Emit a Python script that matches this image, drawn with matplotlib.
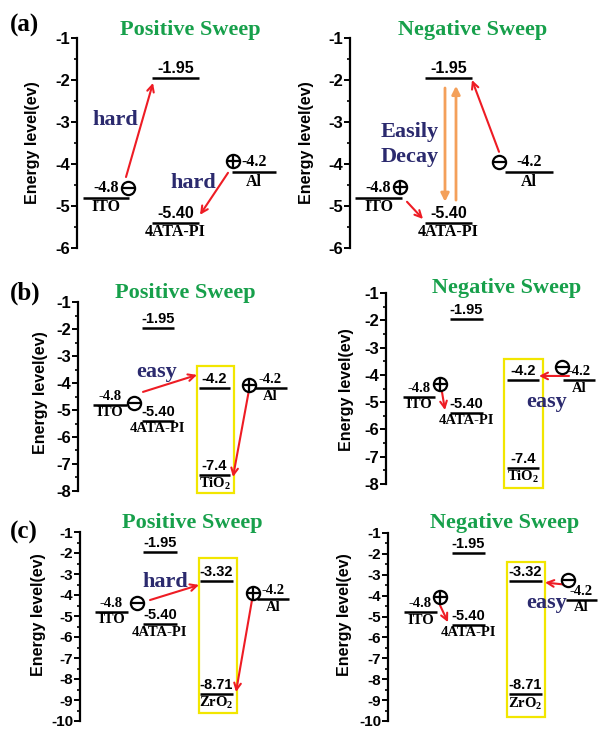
import matplotlib
matplotlib.use('Agg')
import matplotlib.pyplot as plt
from matplotlib.patches import Rectangle
from matplotlib.ticker import MultipleLocator

plt.rcParams['axes.unicode_minus'] = False
plt.rcParams['mathtext.fontset'] = 'custom'
plt.rcParams['mathtext.rm'] = 'Liberation Serif:bold'
plt.rcParams['mathtext.default'] = 'rm'

# --------------------------------------------
# energy levels (eV)
# --------------------------------------------
ito = -4.8
pi_lumo = -1.95
pi_homo = -5.40
al = -4.2
tio2 = [-4.2, -7.4]
zro2 = [-3.32, -8.71]

panel_tags = ['(a)', '(b)', '(c)']
sweep_titles = ['Positive Sweep', 'Negative Sweep']
y_bottoms = [-6, -8, -10]

W, H = 598, 729
SERIF = 'Liberation Serif'
SANS = 'Liberation Sans'
GREEN = '#17a04b'
NAVY = '#2b2a6e'
RED = '#ee1c24'
ORANGE = '#f4a05a'
YELLOW = '#f2e600'

fig = plt.figure(figsize=(W / 100, H / 100), dpi=100)


def make_axes(left, right, ytop, ybot, ymin, fs=12):
    ax = fig.add_axes([left / W, 1 - ybot / H, (right - left) / W, (ybot - ytop) / H])
    ax.set_xlim(0, right - left)
    ax.set_ylim(ymin, -1)
    for s in ['top', 'right', 'bottom']:
        ax.spines[s].set_visible(False)
    ax.spines['left'].set_linewidth(1.6)
    ax.set_xticks([])
    ax.set_yticks(range(ymin, 0))
    ax.yaxis.set_minor_locator(MultipleLocator(0.5))
    ax.tick_params(axis='y', which='major', length=4, width=1.4, pad=1)
    ax.tick_params(axis='y', which='minor', length=2, width=1.2)
    for lab in ax.get_yticklabels():
        lab.set_fontfamily(SANS)
        lab.set_fontweight('bold')
        lab.set_fontsize(fs)
    ax.patch.set_alpha(0)
    return ax


def level(ax, x0, x1, e, top, bottom=None, top_font=SANS, fs=10.5, bfs=10.5):
    ax.plot([x0, x1], [e, e], color='black', lw=1.8, solid_capstyle='butt')
    xc = (x0 + x1) / 2
    ax.annotate(top, (xc, e), xytext=(0, 1.5), textcoords='offset points',
                ha='center', va='bottom', fontsize=fs, fontweight='bold',
                family=top_font, annotation_clip=False)
    if bottom:
        ax.annotate(bottom, (xc, e), xytext=(0, -1), textcoords='offset points',
                    ha='center', va='top', fontsize=bfs, fontweight='bold',
                    family=SERIF, annotation_clip=False)


def arrow(ax, x0, e0, x1, e1, color=RED, style='->', lw=1.5):
    ax.annotate('', xy=(x1, e1), xytext=(x0, e0),
                arrowprops=dict(arrowstyle=style, color=color, lw=lw,
                                mutation_scale=12, shrinkA=0, shrinkB=0),
                annotation_clip=False)


def charge(ax, x, e, sign):
    ax.plot([x], [e], marker='o', ms=9.5, mfc='white', mec='black', mew=1.6,
            clip_on=False, zorder=5)
    ax.plot([x], [e], marker='+' if sign > 0 else '_', ms=9.5, mec='black',
            mew=1.6, clip_on=False, zorder=6)


def word(ax, x, e, s, fs=16):
    ax.text(x, e, s, color=NAVY, fontsize=fs, fontweight='bold', family=SERIF,
            ha='center', va='center', clip_on=False)


def box(ax, x0, x1, e0, e1):
    ax.add_patch(Rectangle((x0, e1), x1 - x0, e0 - e1, fill=False,
                           edgecolor=YELLOW, lw=1.6, clip_on=False))


def title(x, y, s):
    fig.text(x / W, 1 - y / H, s, color=GREEN, fontsize=16, fontweight='bold',
             family=SERIF, ha='center', va='center')


def ylab(x, y):
    fig.text(x / W, 1 - y / H, 'Energy level(ev)', rotation=90, fontsize=11.5,
             fontweight='bold', family=SANS, ha='center', va='center')


def tag(y, s):
    fig.text(10 / W, 1 - y / H, s, fontsize=18, fontweight='bold', family=SERIF,
             ha='left', va='center')


# --------------------------------------------
# (a) 4ATA-PI only
# --------------------------------------------
tag(25, panel_tags[0])

ax = make_axes(77, 295, 38, 248, y_bottoms[0])
title(190, 30, sweep_titles[0])
ylab(33, 143)
level(ax, 6, 52, ito, '-4.8', 'ITO', top_font=SERIF, fs=11.5, bfs=11.5)
level(ax, 75, 122, pi_lumo, '-1.95', fs=11.5)
level(ax, 75, 122, pi_homo, '-5.40', '4ATA-PI', fs=11.5, bfs=11.5)
level(ax, 155, 199, al, '-4.2', 'Al', top_font=SERIF, fs=11.5, bfs=11.5)
arrow(ax, 49, -4.31, 76, -2.07)
arrow(ax, 151, -4.21, 123, -5.21)
charge(ax, 51, -4.57, -1)
charge(ax, 156, -3.93, 1)
word(ax, 38, -2.95, 'hard')
word(ax, 116, -4.45, 'hard')

ax = make_axes(350, 595, 38, 248, y_bottoms[0])
title(473, 30, sweep_titles[1])
ylab(307, 143)
level(ax, 5, 52, ito, '-4.8', 'ITO', top_font=SERIF, fs=11.5, bfs=11.5)
level(ax, 75, 122, pi_lumo, '-1.95', fs=11.5)
level(ax, 75, 122, pi_homo, '-5.40', '4ATA-PI', fs=11.5, bfs=11.5)
level(ax, 155, 203, al, '-4.2', 'Al', top_font=SERIF, fs=11.5, bfs=11.5)
arrow(ax, 95, -2.19, 95, -4.9, color=ORANGE, style='-|>', lw=2)
arrow(ax, 106, -4.86, 106, -2.14, color=ORANGE, style='-|>', lw=2)
arrow(ax, 149, -3.71, 122, -2.0)
arrow(ax, 57, -4.9, 73, -5.31)
charge(ax, 149, -3.95, -1)
charge(ax, 50, -4.55, 1)
word(ax, 60, -3.24, 'Easily')
word(ax, 60, -3.83, 'Decay')

# --------------------------------------------
# (b) with TiO2
# --------------------------------------------
tag(293, panel_tags[1])

ax = make_axes(78, 295, 302, 491, y_bottoms[1])
title(185, 293, sweep_titles[0])
ylab(40, 393)
level(ax, 15, 49, ito, '-4.8', 'ITO', top_font=SERIF)
level(ax, 64, 96, pi_lumo, '-1.95')
level(ax, 64, 96, pi_homo, '-5.40', '4ATA-PI')
box(ax, 119, 156, -3.37, -8.07)
level(ax, 121, 152, tio2[0], '-4.2')
level(ax, 121, 152, tio2[1], '-7.4', 'TiO$_2$')
level(ax, 175, 209, al, '-4.2', 'Al', top_font=SERIF)
arrow(ax, 65, -4.33, 119, -3.7)
arrow(ax, 171, -4.26, 155, -7.48)
charge(ax, 171, -4.07, 1)
charge(ax, 56, -4.74, -1)
word(ax, 79, -3.59, 'easy')

ax = make_axes(386, 598, 293, 484, y_bottoms[1])
title(507, 288, sweep_titles[1])
ylab(347, 390)
level(ax, 17, 49, ito, '-4.8', 'ITO', top_font=SERIF)
level(ax, 64, 97, pi_lumo, '-1.95')
level(ax, 64, 97, pi_homo, '-5.40', '4ATA-PI')
box(ax, 118, 157, -3.42, -8.14)
level(ax, 121, 153, tio2[0], '-4.2')
level(ax, 121, 153, tio2[1], '-7.4', 'TiO$_2$')
level(ax, 177, 209, al, '-4.2', 'Al', top_font=SERIF)
arrow(ax, 183, -4.04, 153, -4.04)
arrow(ax, 56, -4.63, 59, -5.29)
charge(ax, 176, -3.71, -1)
charge(ax, 54, -4.33, 1)
word(ax, 161, -4.99, 'easy')

# --------------------------------------------
# (c) with ZrO2
# --------------------------------------------
tag(532, panel_tags[2])

ax = make_axes(80, 295, 532, 721, y_bottoms[2], fs=11)
title(192, 523, sweep_titles[0])
ylab(38, 615)
level(ax, 15, 48, ito, '-4.8', 'ITO', top_font=SERIF)
level(ax, 63, 97, pi_lumo, '-1.95')
level(ax, 63, 97, pi_homo, '-5.40', '4ATA-PI')
box(ax, 119, 157, -2.24, -9.62)
level(ax, 120, 153, zro2[0], '-3.32')
level(ax, 120, 153, zro2[1], '-8.71', 'ZrO$_2$')
level(ax, 177, 209, al, '-4.2', 'Al', top_font=SERIF)
arrow(ax, 70, -4.24, 119, -3.52)
arrow(ax, 172, -4.24, 156, -8.62)
charge(ax, 173, -3.9, 1)
charge(ax, 57, -4.38, -1)
word(ax, 85, -3.38, 'hard')

ax = make_axes(388, 598, 533, 721, y_bottoms[2], fs=11)
title(505, 523, sweep_titles[1])
ylab(345, 615)
level(ax, 16, 49, ito, '-4.8', 'ITO', top_font=SERIF)
level(ax, 64, 97, pi_lumo, '-1.95')
level(ax, 64, 97, pi_homo, '-5.40', '4ATA-PI')
box(ax, 119, 157, -2.37, -9.8)
level(ax, 121, 154, zro2[0], '-3.32')
level(ax, 121, 154, zro2[1], '-8.71', 'ZrO$_2$')
level(ax, 178, 209, al, '-4.2', 'Al', top_font=SERIF)
arrow(ax, 175, -3.46, 157, -3.37)
arrow(ax, 52, -4.46, 60, -5.27)
charge(ax, 180, -3.27, -1)
charge(ax, 52, -4.08, 1)
word(ax, 159, -4.36, 'easy')

fig.savefig('out.png', dpi=100)
